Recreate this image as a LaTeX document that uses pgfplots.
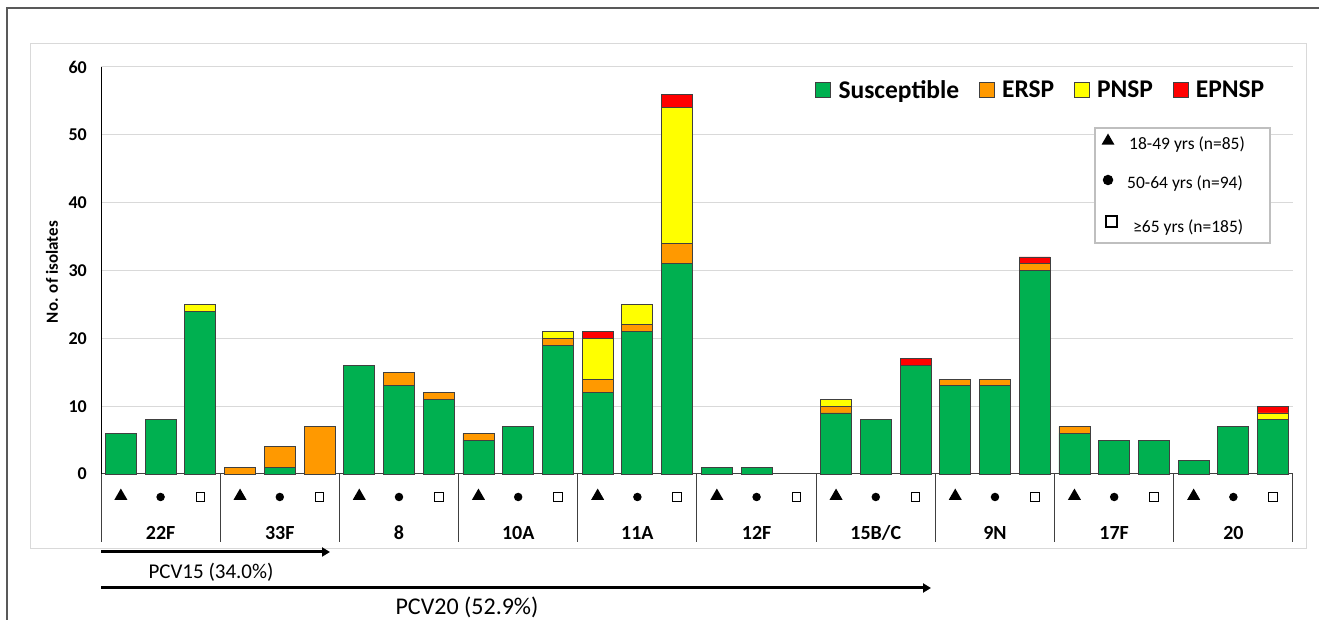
\documentclass[border=0pt]{standalone}
\usepackage{fontspec}
\setmainfont{Carlito}
\usepackage{pgfplots}
\pgfplotsset{compat=1.18}
\usepackage{pgfplotstable}
\usetikzlibrary{arrows.meta,shapes.geometric}
\definecolor{cS}{HTML}{00B050}
\definecolor{cE}{HTML}{FF9900}
\definecolor{cP}{HTML}{FFFF00}
\definecolor{cR}{HTML}{FF0000}
\definecolor{edge}{HTML}{404040}

% x: bar index; S: Susceptible, E: ERSP, P: PNSP, R: EPNSP
\pgfplotstableread{
x S E P R
0 6 0 0 0
1 8 0 0 0
2 24 0 1 0
3 0 1 0 0
4 1 3 0 0
5 0 7 0 0
6 16 0 0 0
7 13 2 0 0
8 11 1 0 0
9 5 1 0 0
10 7 0 0 0
11 19 1 1 0
12 12 2 6 1
13 21 1 3 0
14 31 3 20 2
15 1 0 0 0
16 1 0 0 0
17 0 0 0 0
18 9 1 1 0
19 8 0 0 0
20 16 0 0 1
21 13 1 0 0
22 13 1 0 0
23 30 1 0 1
24 6 1 0 0
25 5 0 0 0
26 5 0 0 0
27 2 0 0 0
28 7 0 0 0
29 8 0 1 1
}\data

\tikzset{
 tri/.style={regular polygon, regular polygon sides=3, fill=black, inner sep=0pt, minimum size=15pt},
 dot/.style={circle, fill=black, inner sep=0pt, minimum size=8.5pt},
 sq/.style={rectangle, draw=black, line width=0.8pt, fill=white, inner sep=0pt, minimum size=8.5pt},
}

\begin{document}
\begin{tikzpicture}[x=1pt,y=1pt]
\path[use as bounding box] (0,0) rectangle (1319,620);
\fill[white] (0,0) rectangle (1319,620);
\draw[color=black!65, line width=1.5pt] (7,0) -- (7,612) -- (1319,612);
\draw[color=black!15, line width=1pt] (30,576) rectangle (1306,71);
\begin{axis}[
 at={(101pt,146pt)}, anchor=south west, scale only axis,
 width=1192pt, height=407pt,
 ybar stacked, bar width=31pt,
 xmin=-0.5, xmax=29.5, ymin=0, ymax=60,
 ytick={0,10,...,60}, xtick=\empty,
 axis x line*=bottom, axis y line*=left, axis line style={-},
 x axis line style={color=edge, line width=1pt},
 y axis line style={color=black, line width=1pt},
 major tick length=0pt,
 ymajorgrids, major grid style={color=black!15, line width=1pt},
 yticklabel style={font=\bfseries\fontsize{18}{20}\selectfont, inner sep=0pt, xshift=-14pt},
 /pgf/number format/assume math mode=true,
 ylabel={No. of isolates},
 every axis y label/.style={at={(axis description cs:-0.0411,0.496)}, rotate=90, anchor=center, font=\bfseries\fontsize{17}{19}\selectfont},
 clip=false,
 legend style={at={(0.979,0.9435)}, anchor=east, draw=none, fill=none,
   inner sep=0pt, font=\bfseries\fontsize{25.5}{27}\selectfont,
   nodes={inner xsep=3.5pt, inner ysep=0pt},
   /tikz/every odd column/.append style={column sep=4pt},
   /tikz/every even column/.append style={column sep=16pt}},
 legend columns=4,
 legend image code/.code={\draw[#1, draw=edge, line width=0.8pt] (0pt,-7.5pt) rectangle (15pt,7.5pt);},
 every axis plot/.append style={draw=edge, line width=0.8pt},
]
\addplot[fill=cS] table[x=x,y=S]{\data}; \addlegendentry{Susceptible}
\addplot[fill=cE] table[x=x,y=E]{\data}; \addlegendentry{ERSP}
\addplot[fill=cP] table[x=x,y=P]{\data}; \addlegendentry{PNSP}
\addplot[fill=cR] table[x=x,y=R]{\data}; \addlegendentry{EPNSP}

\pgfplotsinvokeforeach{-0.5,2.5,5.5,8.5,11.5,14.5,17.5,20.5,23.5,26.5,29.5}{
  \draw[edge, line width=1pt] (axis cs:#1,0) -- (axis cs:#1,-10);
}
\pgfplotsinvokeforeach{0,3,6,9,12,15,18,21,24,27}{
  \node[tri] at (axis cs:#1,-3.25) {};
}
\pgfplotsinvokeforeach{1,4,7,10,13,16,19,22,25,28}{
  \node[dot] at (axis cs:#1,-3.39) {};
}
\pgfplotsinvokeforeach{2,5,8,11,14,17,20,23,26,29}{
  \node[sq] at (axis cs:#1,-3.39) {};
}
\tikzset{catlab/.style={font=\bfseries\fontsize{20}{22}\selectfont}}
\node[catlab] at (axis cs:1,-8.7) {22F};
\node[catlab] at (axis cs:4,-8.7) {33F};
\node[catlab] at (axis cs:7,-8.7) {8};
\node[catlab] at (axis cs:10,-8.7) {10A};
\node[catlab] at (axis cs:13,-8.7) {11A};
\node[catlab] at (axis cs:16,-8.7) {12F};
\node[catlab] at (axis cs:19,-8.7) {15B/C};
\node[catlab] at (axis cs:22,-8.7) {9N};
\node[catlab] at (axis cs:25,-8.7) {17F};
\node[catlab] at (axis cs:28,-8.7) {20};
\end{axis}

% age-group key
\draw[color=black!25, line width=1.2pt, fill=white] (1095,492) rectangle (1270,377);
\node[tri, minimum size=15pt] at (1108,479) {};
\node[anchor=west, inner sep=0pt, font=\fontsize{17.5}{19}\selectfont] at (1129,475) {18-49 yrs (n=85)};
\node[circle, fill=black, inner sep=0pt, minimum size=10.5pt] at (1108,440) {};
\node[anchor=west, inner sep=0pt, font=\fontsize{17.5}{19}\selectfont] at (1127,436) {50-64 yrs (n=94)};
\node[rectangle, draw=black, line width=2pt, inner sep=0pt, minimum size=11pt] at (1111,398) {};
\node[anchor=west, inner sep=0pt, font=\fontsize{17.5}{19}\selectfont] at (1133,392) {≥65 yrs (n=185)};

% vaccine coverage arrows
\draw[line width=3pt, -{Triangle[length=8pt,width=9pt]}] (101,68) -- (330,68);
\node[font=\fontsize{21}{23}\selectfont] at (211,48) {PCV15 (34.0\%)};
\draw[line width=3pt, -{Triangle[length=8pt,width=9pt]}] (101,32) -- (931,32);
\node[font=\fontsize{24}{26}\selectfont] at (467,13) {PCV20 (52.9\%)};
\end{tikzpicture}
\end{document}
